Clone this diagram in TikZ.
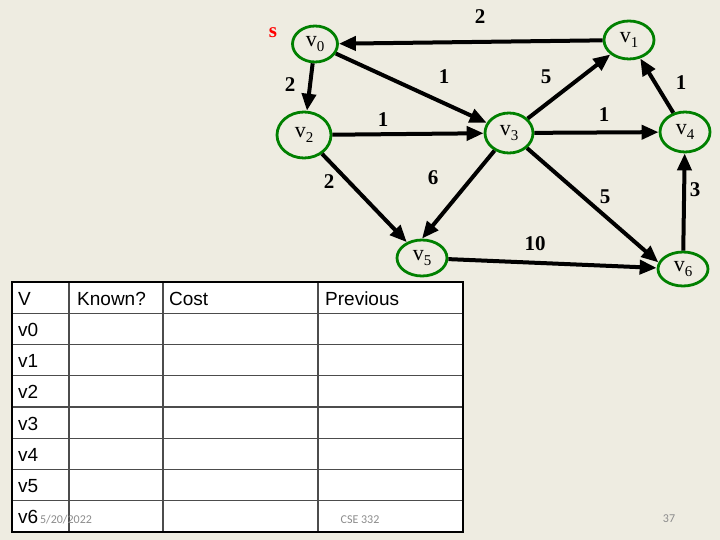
\documentclass[tikz,border=0pt]{standalone}
\usepackage{fontspec}
\setmainfont{Liberation Serif}
\setsansfont{Liberation Sans}
\newfontfamily\footfont{Carlito}
\usetikzlibrary{arrows.meta,shapes.geometric}
\definecolor{slidebg}{HTML}{EEECE1}
\definecolor{vgreen}{HTML}{008000}
\definecolor{footgrey}{HTML}{8C8C8C}
\newcommand{\vlab}[1]{v\raisebox{-0.45ex}{\fontsize{15}{15}\selectfont #1}}
\tikzset{
  vtx/.style = {ellipse, draw=vgreen, line width=2.8pt, inner sep=0pt,
    minimum width=50pt, minimum height=38pt, font=\fontsize{22}{22}\selectfont},
  wt/.style = {font=\bfseries\fontsize{21}{21}\selectfont, inner sep=0pt},
  edge/.style = {-{Triangle[length=17pt,width=14pt]}, line width=4pt, black},
  cell/.style = {anchor=base west, font=\sffamily\fontsize{19}{19}\selectfont, inner sep=0pt},
  grid/.style = {line width=1.2pt, black!70},
  foot/.style = {text=footgrey, font=\footfont\fontsize{12}{12}\selectfont, inner sep=0pt}
}

\begin{document}
\begin{tikzpicture}[x=1pt,y=-1pt]

\fill[slidebg] (0,0) rectangle (720,540);

% graph
\node [vtx, minimum width=45pt, minimum height=36pt] (v0) at (315,44) {\vlab{0}};
\node [vtx] (v1) at (629,40) {\vlab{1}};
\node [vtx, minimum width=54pt, minimum height=46pt] (v2) at (304,135) {\vlab{2}};
\node [vtx, minimum width=48pt, minimum height=40pt] (v3) at (509,133) {\vlab{3}};
\node [vtx, minimum height=40pt] (v4) at (685,132) {\vlab{4}};
\node [vtx, minimum height=36pt] (v5) at (422,258) {\vlab{5}};
\node [vtx, minimum height=34pt] (v6) at (683,269) {\vlab{6}};

\node [wt, text=red] (src) at (273,33) {s};

\draw [edge] (v1) -- (v0);
\draw [edge] (v0) -- (v2);
\draw [edge] (v0) -- (v3);
\draw [edge] (v2) -- (v3);
\draw [edge] (v2) -- (v5);
\draw [edge] (v3) -- (v5.north);
\draw [edge] (v3) -- (v1);
\draw [edge] (v3) -- (v4);
\draw [edge] (v3.-40) -- (v6.165);
\draw [edge] (v4) -- (v1);
\draw [edge] (v6) -- (v4);
\draw [edge] (v5) -- (v6);

\node [wt] (w10) at (480,17) {2};
\node [wt] (w02) at (290,85) {2};
\node [wt] (w03) at (444,77) {1};
\node [wt] (w23) at (383,120) {1};
\node [wt] (w25) at (329,182) {2};
\node [wt] (w35) at (433,178) {6};
\node [wt] (w31) at (546,77) {5};
\node [wt] (w34) at (604,115) {1};
\node [wt] (w36) at (605,197) {5};
\node [wt] (w41) at (681,83) {1};
\node [wt] (w64) at (695,190) {3};
\node [wt] (w56) at (535,244) {10};

% table
\fill [white] (12,282) rectangle (463,532);
\foreach \r in {1,...,7}
  \draw [grid] (12,{282+31.25*\r}) -- (463,{282+31.25*\r});
\foreach \x in {69,163,318}
  \draw [grid] (\x,282) -- (\x,532);
\draw [line width=2pt] (12,282) rectangle (463,532);

\node [cell] (hv) at (18,305) {V};
\node [cell] (hknown) at (77,305) {Known?};
\node [cell] (hcost) at (169,305) {Cost};
\node [cell] (hprev) at (325,305) {Previous};
\foreach \i in {0,...,6}
  \node [cell] (r\i) at (18,{336.25+31.25*\i}) {v\i};

% footer
\node [foot] (date) at (66,520) {5/20/2022};
\node [foot] (course) at (360,520) {CSE 332};
\node [foot] (page) at (669,519) {37};

\end{tikzpicture}
\end{document}
